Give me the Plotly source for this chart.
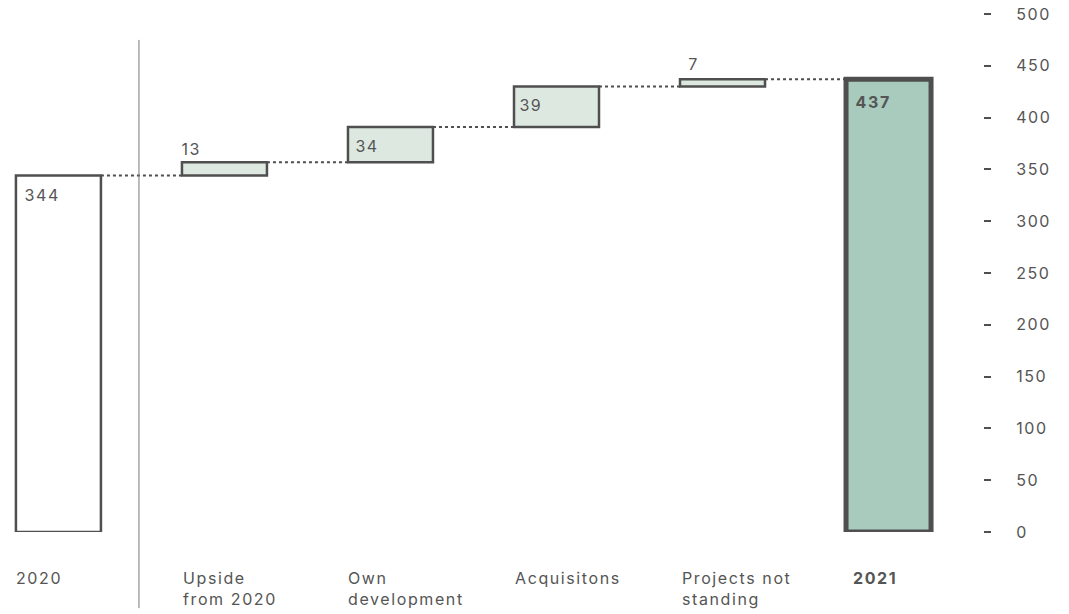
import plotly.graph_objects as go

# Bridge from 2020 to 2021 (MW)
categories = ["2020", "Upside<br>from 2020", "Own<br>development", "Acquisitons",
              "Projects not<br>standing", "<b>2021</b>"]
start_value = 344
changes = [13, 34, 39, 7]
end_value = 437

ytick_vals = [0, 50, 100, 150, 200, 250, 300, 350, 400, 450, 500]

DARK = "#4f4f4f"
TEXT = "#555555"
LIGHT = "#dde8e1"
GREEN = "#a8cbbd"
FONT = "Inter, Roboto, sans-serif"
FSIZE = 16

# running totals -> bar bases and heights
bases, heights = [0], [start_value]
level = start_value
for c in changes:
    bases.append(level)
    heights.append(c)
    level += c
bases.append(0)
heights.append(end_value)

xs = list(range(len(categories)))
bar_w = 0.512
fills = ["#ffffff"] + [LIGHT] * len(changes) + [GREEN]
line_w = [2.5] + [2.5] * len(changes) + [5]

fig = go.Figure(go.Bar(
    x=xs, y=heights, base=bases, width=bar_w,
    marker=dict(color=fills, line=dict(color=DARK, width=line_w)),
    hoverinfo="skip",
))

x_min, x_max = -0.352, 5.569

shapes = []
# dotted connectors between consecutive bars
for i in range(len(xs) - 1):
    top = bases[i] + heights[i]
    shapes.append(dict(type="line", xref="x", yref="y",
                       x0=xs[i] + bar_w / 2, x1=xs[i + 1] - bar_w / 2,
                       y0=top, y1=top,
                       line=dict(color=DARK, width=2, dash="dot")))
# separator between opening value and the movements
sep = 0.485
sep_paper = (sep - x_min) / (x_max - x_min)
shapes.append(dict(type="line", xref="paper", yref="paper",
                   x0=sep_paper, x1=sep_paper, y0=0.95, y1=-0.147,
                   line=dict(color="#777777", width=1)))

annotations = []
# value labels: inside the bar top-left, or just above thin bars
value_labels = [start_value] + changes + [end_value]
inside = [True, False, True, True, False, True]
label_dx = [9, -1, 7, 5, 7, 10]
label_dy = [-7, 1, -7, -6, 3, -11]
for i, v in enumerate(value_labels):
    top = bases[i] + heights[i]
    txt = f"<b>{v}</b>" if i == len(xs) - 1 else str(v)
    annotations.append(dict(x=xs[i] - bar_w / 2, y=top, xref="x", yref="y",
                            text=txt, showarrow=False, xanchor="left",
                            yanchor="top" if inside[i] else "bottom",
                            xshift=label_dx[i], yshift=label_dy[i],
                            font=dict(family=FONT, size=FSIZE, color=TEXT)))
# category labels, left aligned under each bar
cat_dx = [-2, -1, -2, -1, 0, 5]
for i, c in enumerate(categories):
    annotations.append(dict(x=xs[i] - bar_w / 2, y=-0.0714, xref="x", yref="paper",
                            text=c, showarrow=False, xanchor="left", yanchor="top",
                            align="left", xshift=cat_dx[i], yshift=3,
                            font=dict(family=FONT, size=FSIZE, color=TEXT)))

fig.update_layout(
    width=1069, height=614,
    margin=dict(l=0, r=86, t=14, b=82),
    paper_bgcolor="white", plot_bgcolor="white",
    showlegend=False,
    shapes=shapes, annotations=annotations,
    xaxis=dict(range=[x_min, x_max], visible=False, fixedrange=True),
    yaxis=dict(range=[0, 500], side="right", tickvals=ytick_vals,
               showgrid=False, zeroline=False, showline=False,
               ticks="outside", ticklen=7, tickwidth=2, tickcolor=DARK,
               ticklabelstandoff=22,
               tickfont=dict(family=FONT, size=FSIZE, color=TEXT), fixedrange=True),
)

# open tracking on all chart text
tracking_js = """
var gd = document.getElementById('{plot_id}');
gd.querySelectorAll('text').forEach(function(t) {
    t.style.letterSpacing = '1.6px';
});
"""

fig.write_html("out.html", post_script=tracking_js)
